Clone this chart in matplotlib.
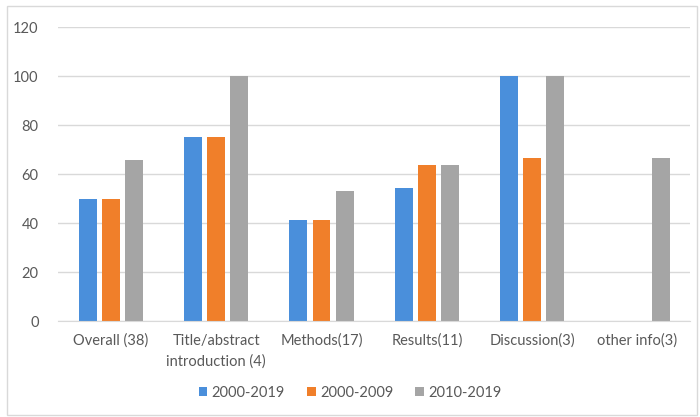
import numpy as np
import matplotlib.pyplot as plt
from matplotlib.patches import Rectangle

categories = ['Overall (38)', 'Title/abstract\nintroduction (4)', 'Methods(17)',
              'Results(11)', 'Discussion(3)', 'other info(3)']
series_names = ['2000-2019', '2000-2009', '2010-2019']
all_years = [50, 75, 41.2, 54.5, 100, 0]
early_years = [50, 75, 41.2, 63.6, 66.7, 0]
late_years = [65.8, 100, 52.9, 63.6, 100, 66.7]
colors = ['#4a8fdb', '#f07f2a', '#a5a5a5']

plt.rcParams['font.family'] = ['Lato', 'DejaVu Sans']

fig = plt.figure(figsize=(7, 4.17), dpi=100)
ax = fig.add_axes([0.083, 0.23, 0.903, 0.705])

x = np.arange(len(categories))
width = 0.17
step = 0.22
for i, (vals, name) in enumerate(zip([all_years, early_years, late_years], series_names)):
    ax.bar(x + (i - 1) * step, vals, width, color=colors[i], label=name, zorder=2)

ax.set_ylim(0, 120)
ax.set_yticks(range(0, 121, 20))
ax.set_xlim(-0.5, len(categories) - 0.5)
ax.set_xticks(x)
ax.set_xticklabels(categories, linespacing=1.6, va='top')
ax.grid(axis='y', color='#d9d9d9', linewidth=1, zorder=0)
for s in ['top', 'right', 'left']:
    ax.spines[s].set_visible(False)
ax.spines['bottom'].set_color('#d9d9d9')
ax.tick_params(axis='both', length=0, colors='#595959', labelsize=10.5)
ax.tick_params(axis='x', pad=9)
ax.tick_params(axis='y', pad=14)

leg = fig.legend(loc='lower center', bbox_to_anchor=(0.5, 0.01), ncol=3, frameon=False,
                 fontsize=10.5, handlelength=0.6, handleheight=0.6, columnspacing=1.5,
                 handletextpad=0.3)
for t in leg.get_texts():
    t.set_color('#595959')

fig.patches.append(Rectangle((0.01, 0.005), 0.985, 0.98, transform=fig.transFigure,
                             fill=False, edgecolor='#d9d9d9', linewidth=1))

fig.savefig('out.png', dpi=100)
